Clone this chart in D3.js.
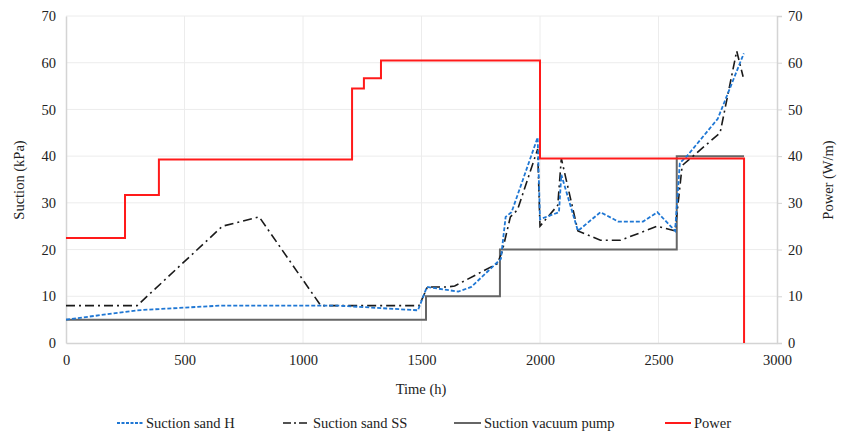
<!DOCTYPE html>
<html><head><meta charset="utf-8">
<script src="https://cdn.jsdelivr.net/npm/d3@7"></script>
<style>body{margin:0;background:#fff}svg{display:block}</style>
</head><body><svg id="c" width="843" height="436"></svg>
<script>
const xTicks = [0,500,1000,1500,2000,2500,3000];
const yTicks = [0,10,20,30,40,50,60,70];
const seriesNames = ["Suction sand H","Suction sand SS","Suction vacuum pump","Power"];
const sandH = [[0,5],[300,7],[650,8],[1150,8],[1485,7],[1523,12],[1655,11],[1710,12],[1835,18],[1855,27],[1880,28],[1990,44],[2000,26.5],[2080,28],[2090,36],[2160,24],[2255,28],[2330,26],[2435,26],[2495,28],[2570,24],[2590,38.5],[2620,40],[2750,48],[2860,62]];
const sandSS = [[0,8],[300,8],[660,25],[815,27],[1075,8],[1490,8],[1525,12],[1610,12],[1640,12.2],[1670,13],[1820,17],[1840,19.5],[1875,27],[1905,28.5],[1990,41.5],[2000,25],[2075,29.5],[2090,39.5],[2160,24],[2255,22],[2340,22],[2495,25],[2570,24],[2600,38],[2760,45],[2830,62.5],[2857,57]];
const pump = [[0,5],[1519,5],[1519,10],[1831,10],[1831,20],[2577,20],[2577,40],[2861,40]];
const power = [[0,22.5],[249,22.5],[249,31.7],[392,31.7],[392,39.3],[1207,39.3],[1207,54.5],[1257,54.5],[1257,56.7],[1329,56.7],[1329,60.5],[2000,60.5],[2000,39.5],[2861,39.5],[2861,0]];

const FONT = "Liberation Serif";
const svg = d3.select("#c");
const x = d3.scaleLinear().domain([0,3000]).range([66,777]);
const y = d3.scaleLinear().domain([0,70]).range([343,16]);
const y2 = d3.scaleLinear().domain([0,70]).range([343,16]);

// grid
svg.append("g").selectAll("line").data(yTicks.slice(1)).join("line")
  .attr("x1",66).attr("x2",777).attr("y1",d=>y(d)).attr("y2",d=>y(d))
  .attr("stroke","#ececec").attr("stroke-width",1);
svg.append("g").selectAll("line").data(xTicks.slice(1,-1)).join("line")
  .attr("y1",16).attr("y2",343).attr("x1",d=>x(d)).attr("x2",d=>x(d))
  .attr("stroke","#ececec").attr("stroke-width",1);

// axes
const fmt = d3.format("d");
const gx = svg.append("g").attr("transform","translate(0,343)")
  .call(d3.axisBottom(x).tickValues(xTicks).tickFormat(fmt).tickSize(0).tickPadding(12));
const gy = svg.append("g").attr("transform","translate(66,0)")
  .call(d3.axisLeft(y).tickValues(yTicks).tickFormat(fmt).tickSize(0).tickPadding(10));
const gy2 = svg.append("g").attr("transform","translate(777,0)")
  .call(d3.axisRight(y2).tickValues(yTicks).tickFormat(fmt).tickSize(5).tickPadding(6));
[gx,gy,gy2].forEach(g=>{
  g.attr("font-family",FONT).attr("font-size",14.5);
  g.selectAll("text").attr("fill","#222").attr("font-family",FONT);
  g.select(".domain").attr("stroke","#d4d4d4").attr("stroke-width",1.5);
  g.selectAll(".tick line").attr("stroke","#d4d4d4");
});

const line = d3.line().x(d=>x(d[0])).y(d=>y(d[1]));
const line2 = d3.line().x(d=>x(d[0])).y(d=>y2(d[1]));

svg.append("path").datum(pump).attr("d",line).attr("fill","none")
  .attr("stroke","#666").attr("stroke-width",2);
svg.append("path").datum(sandSS).attr("d",line).attr("fill","none")
  .attr("stroke","#1a1a1a").attr("stroke-width",1.6).attr("stroke-dasharray","9,4,2,4");
svg.append("path").datum(sandH).attr("d",line).attr("fill","none")
  .attr("stroke","#1f77d4").attr("stroke-width",1.8).attr("stroke-dasharray","4,2");
svg.append("path").datum(power).attr("d",line2).attr("fill","none")
  .attr("stroke","#ff1a1a").attr("stroke-width",2);

// titles
const t = svg.append("g");
t.append("text").attr("x",421).attr("y",394).attr("text-anchor","middle").text("Time (h)");
t.append("text").attr("transform","translate(24,180) rotate(-90)").attr("text-anchor","middle").text("Suction (kPa)");
t.append("text").attr("transform","translate(833,180) rotate(-90)").attr("text-anchor","middle").text("Power (W/m)");
t.selectAll("text").attr("font-family",FONT).attr("font-size",14.5).attr("fill","#222");

// legend
const leg = [
  {name:seriesNames[0], x1:117, x2:143, stroke:"#1f77d4", dash:"3,1.5", w:1.8},
  {name:seriesNames[1], x1:283, x2:310, stroke:"#1a1a1a", dash:"8,3,2,3", w:1.6},
  {name:seriesNames[2], x1:454, x2:481, stroke:"#666", dash:null, w:2},
  {name:seriesNames[3], x1:665, x2:691, stroke:"#ff1a1a", dash:null, w:2}
];
const lg = svg.append("g").selectAll("g").data(leg).join("g");
lg.append("line").attr("x1",d=>d.x1).attr("x2",d=>d.x2).attr("y1",423).attr("y2",423)
  .attr("stroke",d=>d.stroke).attr("stroke-width",d=>d.w).attr("stroke-dasharray",d=>d.dash);
lg.append("text").attr("x",d=>d.x2+3).attr("y",428).attr("font-family",FONT).attr("font-size",14.5).attr("fill","#222").text(d=>d.name);
</script></body></html>
